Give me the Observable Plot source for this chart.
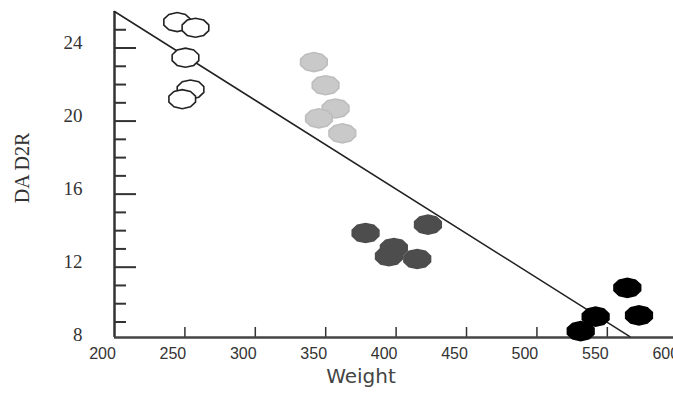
<!DOCTYPE html>
<html>
<head>
<meta charset="utf-8">
<script src="https://cdn.jsdelivr.net/npm/d3@7"></script>
<script src="https://cdn.jsdelivr.net/npm/@observablehq/plot@0.6"></script>
<style>
  html, body { margin: 0; padding: 0; background: #fff; overflow: hidden; }
  svg { display: block; }
</style>
</head>
<body>
<div id="chart"></div>
<script>
// Data
const groups = ["white", "lightgray", "darkgray", "black"];
const whiteWeight = [244.5, 257.5, 250.4, 254, 248.1];
const whiteD2R = [25.42, 25.11, 23.47, 21.73, 21.2];
const lightWeight = [341.6, 349.9, 357, 345.2, 361.8];
const lightD2R = [23.23, 21.96, 20.69, 20.15, 19.33];
const darkWeight = [378.3, 422.6, 398.4, 394.9, 415];
const darkD2R = [13.87, 14.33, 13.05, 12.6, 12.45];
const blackWeight = [564.2, 572.5, 541.7, 531.1];
const blackD2R = [10.87, 9.36, 9.29, 8.5];
const fitWeight = [200, 566];
const fitD2R = [26, 8.2];
const xTicks = [200, 250, 300, 350, 400, 450, 500, 550, 600];
const yTicks = [8, 12, 16, 20, 24];
const yMinor = d3.range(9, 26, 1).filter(v => v % 4 !== 0);

const fills = {white: "#ffffff", lightgray: "#c9c9c9", darkgray: "#4d4d4d", black: "#000000"};
const strokes = {white: "#222222", lightgray: "#bdbdbd", darkgray: "#4d4d4d", black: "#000000"};

const pts = [];
[[whiteWeight, whiteD2R, "white"], [lightWeight, lightD2R, "lightgray"],
 [darkWeight, darkD2R, "darkgray"], [blackWeight, blackD2R, "black"]].forEach(([xs, ys, g]) => {
  xs.forEach((x, i) => pts.push({weight: x, d2r: ys[i], group: g}));
});
const fit = fitWeight.map((x, i) => ({weight: x, d2r: fitD2R[i]}));

// Ellipse-ish polygon symbol (blob), sized from r
const blob = {
  draw(context, size) {
    const r = Math.sqrt(size / Math.PI);
    const rx = r * 1.0, ry = r * 0.68;
    const n = 10;
    for (let i = 0; i < n; i++) {
      const a = (i + 0.5) / n * 2 * Math.PI;
      const px = rx * Math.cos(a), py = ry * Math.sin(a);
      if (i === 0) context.moveTo(px, py); else context.lineTo(px, py);
    }
    context.closePath();
  }
};

const chart = Plot.plot({
  width: 673,
  height: 395,
  marginLeft: 114,
  marginRight: 0,
  marginTop: 11,
  marginBottom: 58,
  x: {domain: [200, 597]},
  y: {domain: [8.15, 26]},
  style: {background: "#fff", overflow: "visible"},
  marks: [
    Plot.axisX({ticks: xTicks, tickSize: 0, tickPadding: 10, dx: -12, label: null,
      fontSize: 16, fontFamily: "Liberation Sans, sans-serif", fill: "#333", style: {letterSpacing: "-0.8px"}}),
    Plot.axisX({ticks: xTicks.filter(v => v > 200 && v < 600), tickSize: -10, text: null, stroke: "#333", strokeWidth: 1.5, label: null}),
    Plot.axisY({ticks: yTicks, tickSize: 0, tickPadding: 32, dy: -5, label: null,
      fontSize: 19, fontFamily: "Liberation Serif, serif", fill: "#333"}),
    Plot.axisY({ticks: yTicks.filter(v => v > 8), tickSize: -22, text: null, stroke: "#333", strokeWidth: 2, label: null}),
    Plot.axisY({ticks: yMinor, tickSize: -12, text: null, stroke: "#333", strokeWidth: 2, label: null}),
    Plot.ruleX([200], {stroke: "#333", strokeWidth: 2.5}),
    Plot.ruleY([8.15], {stroke: "#444", strokeWidth: 2.5}),
    Plot.line(fit, {x: "weight", y: "d2r", stroke: "#222", strokeWidth: 1.5}),
    Plot.dot(pts, {x: "weight", y: "d2r", r: 14, symbol: blob,
      fill: d => fills[d.group], stroke: d => strokes[d.group], strokeWidth: 1.6})
  ]
});

const svg = d3.select(chart);
// Axis titles
svg.append("text")
  .attr("x", 361).attr("y", 383)
  .attr("text-anchor", "middle")
  .attr("font-family", "DejaVu Sans, sans-serif")
  .attr("font-size", 20).attr("fill", "#444")
  .text("Weight");
svg.append("text")
  .attr("transform", "translate(29,168) rotate(-90)")
  .attr("text-anchor", "middle")
  .attr("font-family", "Liberation Serif, serif")
  .attr("font-size", 20).attr("fill", "#333")
  .text("DA D2R");

document.getElementById("chart").appendChild(chart);
</script>
</body>
</html>
